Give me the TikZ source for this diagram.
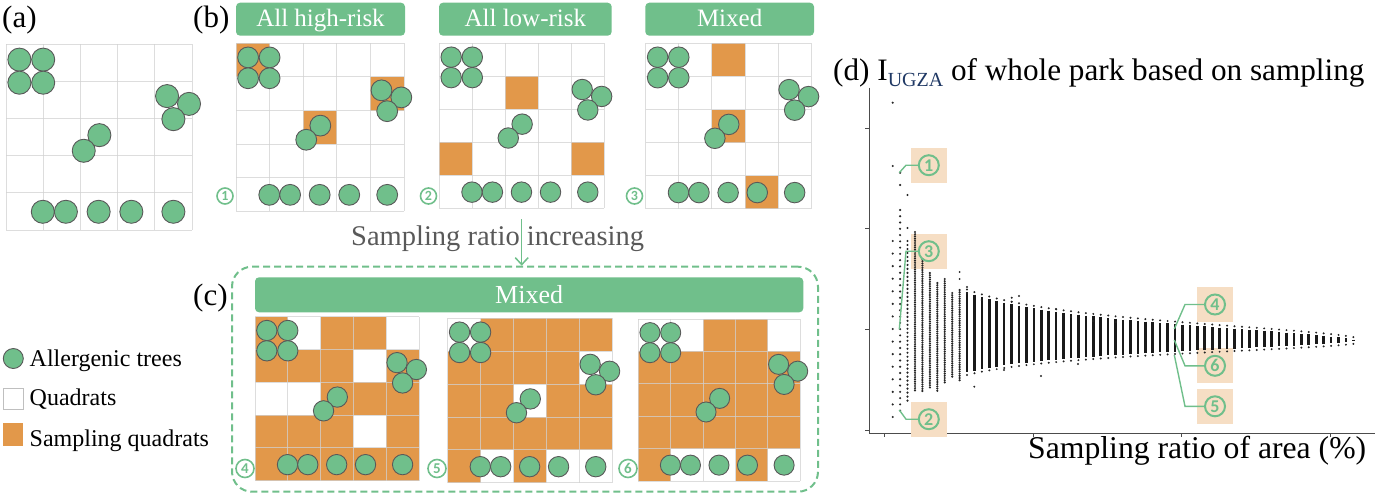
\documentclass[tikz,border=0pt]{standalone}
\usepackage{fontspec}
\setmainfont{Liberation Serif}
\newfontfamily\numfont{Carlito}
\usetikzlibrary{arrows.meta}
\definecolor{grn}{RGB}{112,191,139}
\definecolor{org}{RGB}{226,152,74}
\definecolor{beige}{RGB}{246,222,196}
\definecolor{navy}{RGB}{31,56,100}
\definecolor{txtgray}{RGB}{89,89,89}

\newcommand{\sampcells}[4]{%
  \foreach \cc/\rr in {#4}{\fill[sampfill] ({#1+\cc*#3},{#2+\rr*#3}) rectangle ++(#3,#3);}}
\newcommand{\quadgrid}[3]{%
  \foreach \k in {0,...,5}{%
    \draw[gridline] ({#1+\k*#3},#2) -- ({#1+\k*#3},{#2+5*#3});
    \draw[gridline] (#1,{#2+\k*#3}) -- ({#1+5*#3},{#2+\k*#3});}
  \foreach \tx/\ty in {0.36/0.42,1.0/0.42,0.36/1.04,1.0/1.04,4.33/1.40,4.92/1.61,4.50/2.02,2.51/2.45,2.09/2.87,0.99/4.51,1.61/4.51,2.49/4.51,3.37/4.51,4.50/4.51}{%
    \draw[tree] ({#1+\tx*#3},{#2+\ty*#3}) circle[radius={0.31*#3}];}}

\begin{document}
\begin{tikzpicture}[x=1pt,y=-1pt,
  tree/.style={fill=grn, draw=black!65, line width=0.9pt},
  sampfill/.style={fill=org},
  gridline/.style={draw=black!18, draw opacity=0.75, line width=0.9pt},
  hdr/.style={fill=grn, rounded corners=4pt, text=white, inner xsep=0pt, inner ysep=0pt, font=\fontsize{25}{25}\selectfont},
  numc/.style={circle, draw=grn, line width=1.6pt, inner sep=0pt, minimum size=16pt, text=grn, font=\numfont\bfseries\fontsize{14}{14}\selectfont},
  numd/.style={circle, draw=grn, line width=2pt, inner sep=0pt, minimum size=20pt, text=grn, font=\numfont\bfseries\fontsize{18}{18}\selectfont},
  bbox/.style={fill=beige, minimum width=35.5pt, minimum height=35pt, inner sep=0pt},
  lbl/.style={anchor=base west, inner sep=0pt},
  dot/.style={fill=black!85},
  bar/.style={draw=black!90, line width=2.6pt},
  conn/.style={draw=grn, line width=1.4pt},
  axisln/.style={draw=black!70, line width=1pt}
]
\useasboundingbox (0,0) rectangle (1376,499);

% ---------- panel labels ----------
\node[lbl, font=\fontsize{31}{31}\selectfont] (la) at (2,27) {(a)};
\node[lbl, font=\fontsize{31}{31}\selectfont] (lb) at (193,27) {(b)};
\node[lbl, font=\fontsize{31}{31}\selectfont] (lc) at (193,305) {(c)};

% ---------- (a) ----------
\quadgrid{6}{44}{37.2}

% ---------- (b) headers ----------
\node[hdr, minimum width=169pt, minimum height=33pt, text height=24pt, text depth=9pt] (h1) at (320.5,19.2) {All high-risk};
\node[hdr, minimum width=172.7pt, minimum height=33pt, text height=24pt, text depth=9pt] (h2) at (525.35,19.2) {All low-risk};
\node[hdr, minimum width=168.7pt, minimum height=33pt, text height=24pt, text depth=9pt] (h3) at (729.65,19.2) {Mixed};

% ---------- (b) grids ----------
\sampcells{236}{43.3}{33.6}{0/0,4/1,2/2}
\quadgrid{236}{43.3}{33.6}
\sampcells{439.3}{43.3}{33}{2/1,0/3,4/3}
\quadgrid{439.3}{43.3}{33}
\sampcells{645.7}{43.3}{33.1}{2/0,2/2,3/4}
\quadgrid{645.7}{43.3}{33.1}
\node[numc] (c1) at (225,196) {1};
\node[numc] (c2) at (428.5,196) {2};
\node[numc] (c3) at (634.5,196) {3};

% ---------- arrow and text ----------
\node[lbl, text=txtgray, font=\fontsize{28.5}{28.5}\selectfont] (sri) at (351,245) {Sampling ratio increasing};
\node[draw=grn, line width=2pt, dash pattern=on 7pt off 4pt, rounded corners=20pt, minimum width=586pt, minimum height=225pt, inner sep=0pt] (cbox) at (525,379.2) {};
\coordinate (atop) at (521.7,219);
\draw[grn, line width=1.5pt, -{Straight Barb[length=7pt,width=13pt]}] (atop) -- (atop |- cbox.north);

% ---------- (c) ----------
\node[hdr, minimum width=548.3pt, minimum height=35pt, text height=26pt, text depth=9pt, font=\fontsize{26}{26}\selectfont] (hc) at (529.15,294.8) {Mixed};
\sampcells{255}{316.7}{32.8}{0/0,2/0,3/0,0/1,1/1,2/1,4/1,2/2,3/2,4/2,0/3,1/3,2/3,4/3,0/4,1/4,2/4,3/4,4/4}
\quadgrid{255}{316.7}{32.8}
\sampcells{447.7}{318.3}{32.9}{1/0,2/0,3/0,4/0,0/1,1/1,2/1,3/1,0/2,1/2,3/2,4/2,0/3,1/3,2/3,3/3,4/3,0/4,2/4}
\quadgrid{447.7}{318.3}{32.9}
\sampcells{638.3}{319}{32.4}{2/0,3/0,0/1,1/1,2/1,3/1,4/1,0/2,1/2,2/2,3/2,4/2,0/3,1/3,2/3,3/3,4/3,0/4,3/4}
\quadgrid{638.3}{319}{32.4}
\node[numc, minimum size=18pt, font=\numfont\bfseries\fontsize{15}{15}\selectfont] (c4) at (245,468.5) {4};
\node[numc, minimum size=18pt, font=\numfont\bfseries\fontsize{15}{15}\selectfont] (c5) at (437,468.5) {5};
\node[numc, minimum size=18pt, font=\numfont\bfseries\fontsize{15}{15}\selectfont] (c6) at (628,468.5) {6};

% ---------- legend ----------
\draw[tree] (13.3,358.5) circle[radius=10];
\draw[draw=black!25, fill=white, line width=0.8pt] (3.3,388.3) rectangle (23.3,409.3);
\fill[org] (3.3,423) rectangle (23.3,446);
\node[lbl, font=\fontsize{24}{24}\selectfont] (lg1) at (29.5,366) {Allergenic trees};
\node[lbl, font=\fontsize{24}{24}\selectfont] (lg2) at (29.5,405) {Quadrats};
\node[lbl, font=\fontsize{24}{24}\selectfont] (lg3) at (29.5,446) {Sampling quadrats};

% ---------- (d) ----------
\node[lbl, font=\fontsize{31.2}{31.2}\selectfont] (ld) at (833,80) {(d) I\textcolor{navy}{\fontsize{20}{20}\selectfont\raisebox{-6pt}{UGZA}} of whole park based on sampling};
\node[lbl, font=\fontsize{31.7}{31.7}\selectfont] (xl) at (1028,458.5) {Sampling ratio of area (\%)};

\draw[axisln] (869.3,87.7) -- (869.3,433.3) -- (1375,433.3);
\foreach \yy in {128.3,228.7,329.3,430}{\draw[axisln] (865,\yy) -- (869.3,\yy);}
\foreach \xx in {884.3,1033,1181.7,1330}{\draw[axisln] (\xx,433.3) -- (\xx,436.5);}

% label boxes (under the scatter)
\node[bbox] (bx1) at (928.8,165.2) {};
\node[bbox] (bx3) at (928.8,251.2) {};
\node[bbox] (bx2) at (928.8,419.2) {};
\node[bbox] (bx4) at (1215,304.5) {};
\node[bbox] (bx6) at (1215,365.8) {};
\node[bbox] (bx5) at (1215,406.3) {};

% scatter
\foreach \yy in {102.7,166}{\fill[dot] (892.7,\yy) circle[radius=1.2];}
\foreach \k in {0,...,14}{\fill[dot] (892.7,{241+12.57*\k}) circle[radius=1.2];}
\foreach \yy in {172.7,185}{\fill[dot] (900.1,\yy) circle[radius=1.2];}
\foreach \k in {0,...,32}{\fill[dot] (900.1,{210+6.27*\k}) circle[radius=1.2];}
\foreach \yy in {195,228}{\fill[dot] (907.5,\yy) circle[radius=1.2];}
\foreach \k in {0,...,40}{\fill[dot] (907.5,{241+3.99*\k}) circle[radius=1.2];}
\foreach \xx/\ta/\tb in {915.0/232/392,922.4/259/392,929.9/273/389,937.3/283/391,944.7/279/383,952.2/293/377,959.6/290/382}{%
  \pgfmathtruncatemacro\nn{(\tb-\ta)/2.2}
  \foreach \k in {0,...,\nn}{\fill[dot] (\xx,{\ta+2.2*\k}) circle[radius=1.2];}}
\foreach \i in {11,...,63}{%
  \pgfmathsetmacro\xx{892.7+(\i-1)*7.43}
  \pgfmathsetmacro\hh{20*sqrt((64-\i)/\i)}
  \pgfmathsetmacro\ta{340-1.15*\hh}
  \pgfmathsetmacro\tb{342+0.75*\hh}
  \draw[bar] (\xx,{\ta+2.5}) -- (\xx,{\tb-2.5});
  \fill[dot] (\xx,\ta) circle[radius=1.1] (\xx,\tb) circle[radius=1.1];}
\foreach \xx/\yy in {959.6/272,959.6/279,966.9/287,966.9/293,974.3/386.7,981.7/300,1011.7/297.7,1011.7/301.7,1004/370,1019/296,1056/309,1071/317,1093/321,1116/322,1041/376,1078/364}{\fill[dot] (\xx,\yy) circle[radius=1.1];}

% circled numbers and connectors
\node[numd] (n1) at (928.8,165.2) {1};
\node[numd] (n3) at (928.8,251.2) {3};
\node[numd] (n2) at (928.8,419.2) {2};
\node[numd] (n4) at (1215,304.5) {4};
\node[numd] (n6) at (1215,365.8) {6};
\node[numd] (n5) at (1215,406.3) {5};
\coordinate (p1) at (899.3,172.7);
\coordinate (p3) at (899.3,329.3);
\coordinate (p2) at (899.3,410);
\coordinate (p4) at (1174.3,329);
\coordinate (p6) at (1174.3,340);
\coordinate (p5) at (1174.3,355);
\draw[conn] (p1) -- ++(6.7,-7.5) -- (n1.west);
\draw[conn] (p3) -- ++(6.7,-78.1) -- (n3.west);
\draw[conn] (p2) -- ++(6.7,9.2) -- (n2.west);
\draw[conn] (p4) -- ++(10.7,-24.5) -- (n4.west);
\draw[conn] (p6) -- ++(10.7,25.8) -- (n6.west);
\draw[conn] (p5) -- ++(10.7,51.3) -- (n5.west);
\end{tikzpicture}
\end{document}
